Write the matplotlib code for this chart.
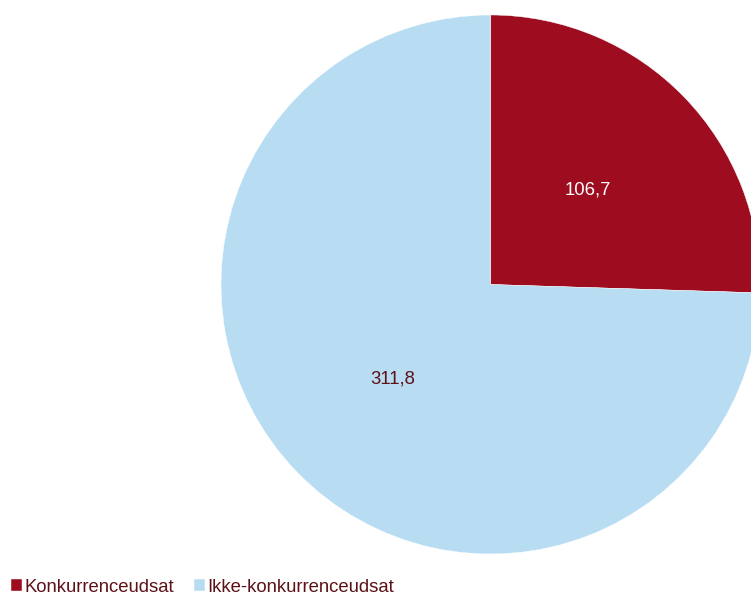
import matplotlib.pyplot as plt

labels = ['Konkurrenceudsat', 'Ikke-konkurrenceudsat']
values = [106.7, 311.8]
colors = ['#9e0c1f', '#b8ddf3']
text_colors = ['white', '#5c1117']

plt.rcParams['font.family'] = ['Liberation Sans', 'DejaVu Sans']

fig = plt.figure(figsize=(7.51, 5.95), dpi=100)

# pie centre ~ (490, 284) px, radius ~270 px; it runs off the right edge
cx, cy, r = 490.5, 284.5, 269.5
ax = fig.add_axes([(cx - r) / 751, (595 - cy - r) / 595, 2 * r / 751, 2 * r / 595])

wedges, texts, autotexts = ax.pie(values, colors=colors, startangle=90, counterclock=False,
                                  autopct=lambda p: '', pctdistance=0.505,
                                  wedgeprops=dict(linewidth=0.3, edgecolor='white'))
for t, v, c in zip(autotexts, values, text_colors):
    t.set_text(f'{v:.1f}'.replace('.', ','))
    t.set_color(c)
    t.set_fontsize(13.3)
ax.set_xlim(-1, 1)
ax.set_ylim(-1, 1)
ax.set_aspect('equal')
for w in wedges:
    w.set_clip_on(False)

leg = fig.legend(wedges, labels, loc='lower left', bbox_to_anchor=(-0.007, -0.029),
                 frameon=False, ncol=2, fontsize=13.3, handlelength=0.6, handleheight=0.6,
                 handletextpad=0.1, columnspacing=1.1, labelcolor='#5c1117')

fig.savefig('out.png', dpi=100)
